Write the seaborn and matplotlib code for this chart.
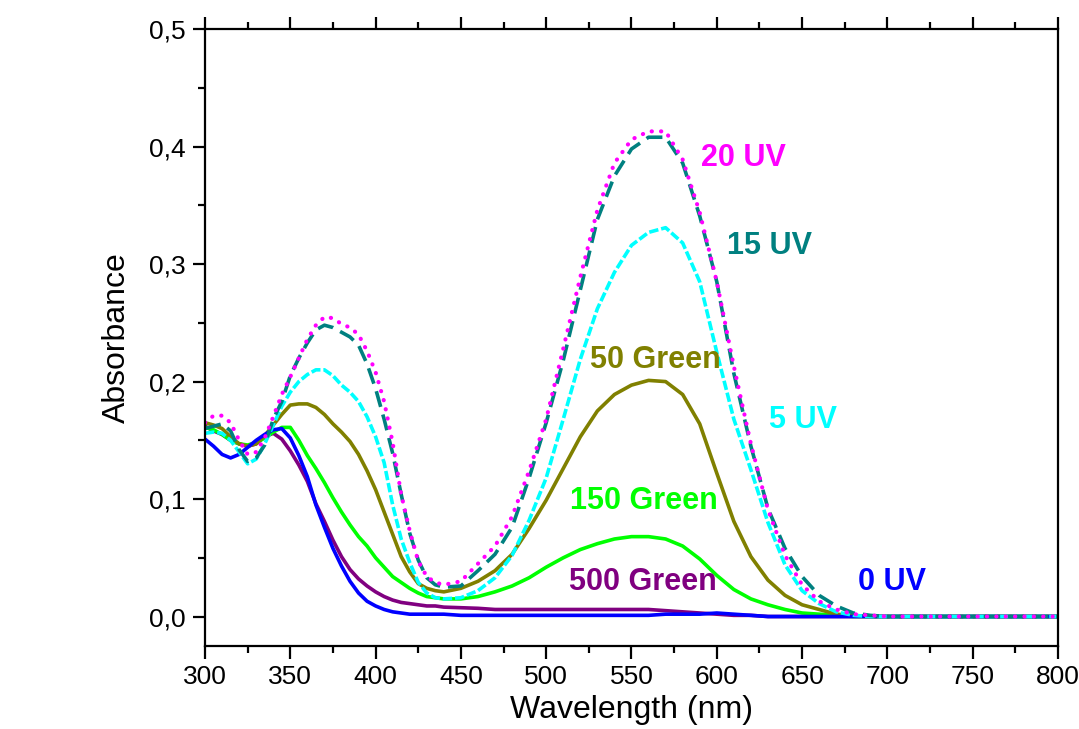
import numpy as np
import pandas as pd
import matplotlib
matplotlib.use("Agg")
import matplotlib.pyplot as plt
from matplotlib.ticker import MultipleLocator, FuncFormatter
import seaborn as sns

wavelength = [300, 305, 310, 315, 320, 325, 330, 335, 340, 345, 350, 355, 360, 365,
              370, 375, 380, 385, 390, 395, 400, 405, 410, 415, 420, 425, 430, 435,
              440, 450, 460, 470, 480, 490, 500, 510, 520, 530, 540, 550, 560, 570,
              580, 590, 600, 610, 620, 630, 640, 650, 660, 670, 680, 690, 700, 750, 800]

uv_20 = [0.165, 0.171, 0.171, 0.165, 0.150, 0.138, 0.140, 0.152, 0.170, 0.189, 0.204, 0.220, 0.236, 0.248,
         0.255, 0.254, 0.249, 0.246, 0.240, 0.226, 0.208, 0.183, 0.148, 0.104, 0.073, 0.047, 0.034, 0.029,
         0.027, 0.030, 0.045, 0.060, 0.085, 0.124, 0.168, 0.228, 0.289, 0.346, 0.386, 0.406, 0.413, 0.413,
         0.389, 0.344, 0.285, 0.213, 0.147, 0.091, 0.052, 0.027, 0.013, 0.006, 0.002, 0.001, 0.000, 0.000, 0.000]

uv_15 = [0.160, 0.162, 0.164, 0.158, 0.142, 0.132, 0.135, 0.146, 0.168, 0.183, 0.205, 0.220, 0.233, 0.244,
         0.248, 0.246, 0.242, 0.238, 0.231, 0.215, 0.194, 0.168, 0.139, 0.104, 0.071, 0.048, 0.033, 0.027,
         0.025, 0.026, 0.039, 0.053, 0.076, 0.118, 0.165, 0.218, 0.278, 0.338, 0.375, 0.398, 0.408, 0.408,
         0.386, 0.341, 0.285, 0.207, 0.145, 0.092, 0.058, 0.034, 0.018, 0.009, 0.003, 0.001, 0.000, 0.000, 0.000]

uv_5 = [0.156, 0.157, 0.156, 0.150, 0.140, 0.130, 0.134, 0.147, 0.163, 0.179, 0.191, 0.200, 0.206, 0.210,
        0.210, 0.205, 0.197, 0.191, 0.183, 0.170, 0.153, 0.131, 0.095, 0.066, 0.046, 0.029, 0.020, 0.016,
        0.015, 0.016, 0.022, 0.033, 0.052, 0.082, 0.118, 0.168, 0.219, 0.262, 0.293, 0.316, 0.327, 0.331,
        0.318, 0.285, 0.225, 0.168, 0.125, 0.080, 0.044, 0.022, 0.011, 0.004, 0.001, 0.000, 0.000, 0.000, 0.000]

green_50 = [0.165, 0.163, 0.160, 0.153, 0.147, 0.145, 0.147, 0.154, 0.163, 0.172, 0.180, 0.181, 0.181, 0.178,
            0.172, 0.164, 0.157, 0.149, 0.138, 0.124, 0.108, 0.089, 0.070, 0.051, 0.038, 0.028, 0.024, 0.022,
            0.021, 0.024, 0.030, 0.039, 0.053, 0.075, 0.099, 0.126, 0.153, 0.175, 0.189, 0.197, 0.201, 0.200,
            0.189, 0.164, 0.122, 0.081, 0.051, 0.031, 0.018, 0.010, 0.006, 0.002, 0.001, 0.000, 0.000, 0.000, 0.000]

green_150 = [0.161, 0.159, 0.155, 0.150, 0.147, 0.146, 0.148, 0.152, 0.157, 0.161, 0.161, 0.150, 0.137, 0.126,
             0.114, 0.101, 0.089, 0.078, 0.068, 0.060, 0.050, 0.042, 0.034, 0.029, 0.024, 0.020, 0.017, 0.016,
             0.015, 0.015, 0.017, 0.021, 0.026, 0.033, 0.042, 0.050, 0.057, 0.062, 0.066, 0.068, 0.068, 0.066,
             0.060, 0.049, 0.035, 0.023, 0.015, 0.010, 0.006, 0.003, 0.002, 0.001, 0.000, 0.000, 0.000, 0.000, 0.000]

green_500 = [0.162, 0.158, 0.155, 0.150, 0.147, 0.145, 0.147, 0.153, 0.156, 0.151, 0.141, 0.129, 0.115, 0.096,
             0.081, 0.065, 0.051, 0.040, 0.032, 0.026, 0.021, 0.017, 0.014, 0.012, 0.011, 0.010, 0.009, 0.009,
             0.008, 0.0075, 0.007, 0.006, 0.006, 0.006, 0.006, 0.006, 0.006, 0.006, 0.006, 0.006, 0.006, 0.005,
             0.004, 0.003, 0.002, 0.001, 0.001, 0.000, 0.000, 0.000, 0.000, 0.000, 0.000, 0.000, 0.000, 0.000, 0.000]

uv_0 = [0.151, 0.145, 0.138, 0.135, 0.138, 0.144, 0.150, 0.155, 0.159, 0.160, 0.152, 0.137, 0.119, 0.095,
        0.076, 0.058, 0.043, 0.030, 0.020, 0.013, 0.009, 0.006, 0.004, 0.003, 0.002, 0.002, 0.002, 0.002,
        0.002, 0.001, 0.001, 0.001, 0.001, 0.001, 0.001, 0.001, 0.001, 0.001, 0.001, 0.001, 0.001, 0.002,
        0.002, 0.002, 0.003, 0.002, 0.001, 0.000, 0.000, 0.000, 0.000, 0.000, 0.000, 0.000, 0.000, 0.000, 0.000]

labels = ["500 Green", "150 Green", "50 Green", "0 UV", "5 UV", "15 UV", "20 UV"]
series = [green_500, green_150, green_50, uv_0, uv_5, uv_15, uv_20]
colors = ["#800080", "#00FF00", "#808000", "#0000FF", "#00FFFF", "#008080", "#FF00FF"]
dash_styles = [None, None, None, None, (2.6, 0.8), (4.5, 2.2), (0.05, 2.2)]
widths = [2.6, 2.6, 2.6, 2.6, 2.6, 2.6, 3.0]
label_pos = {"20 UV": (591, 0.390), "15 UV": (606, 0.315), "50 Green": (525.5, 0.2185),
             "5 UV": (630.5, 0.1675), "150 Green": (514, 0.0986), "500 Green": (513.5, 0.029),
             "0 UV": (683, 0.029)}

sns.set_theme(style="ticks")
plt.rcParams["font.family"] = ["Liberation Sans", "DejaVu Sans"]
plt.rcParams["text.color"] = "black"
plt.rcParams["axes.labelcolor"] = "black"

fig = plt.figure(figsize=(10.79, 7.29), dpi=100)
ax = fig.add_axes([0.190, 0.114, 0.7905, 0.846])

for lab, vals, col, ds, lw in zip(labels, series, colors, dash_styles, widths):
    df = pd.DataFrame({"Wavelength": wavelength, "Absorbance": vals})
    sns.lineplot(data=df, x="Wavelength", y="Absorbance", ax=ax, color=col, lw=lw,
                 sort=False, estimator=None)
    line = ax.lines[-1]
    if ds is not None:
        line.set_dashes(ds)
        if ds[0] < 0.5:
            line.set_dash_capstyle("round")
        else:
            line.set_dash_capstyle("butt")
    tx, ty = label_pos[lab]
    ax.text(tx, ty, lab, color=col, fontsize=22, fontweight="bold", ha="left", va="center")

ax.set_xlim(300, 800)
ax.set_ylim(-0.025, 0.5)
ax.xaxis.set_major_locator(MultipleLocator(50))
ax.xaxis.set_minor_locator(MultipleLocator(25))
ax.yaxis.set_major_locator(MultipleLocator(0.1))
ax.yaxis.set_minor_locator(MultipleLocator(0.05))
ax.yaxis.set_major_formatter(FuncFormatter(lambda v, p: f"{v:.1f}".replace(".", ",")))

for s in ax.spines.values():
    s.set_linewidth(1.6)
    s.set_color("black")
ax.tick_params(which="major", direction="out", length=9, width=1.6, labelsize=19,
               top=True, right=False, colors="black", labelcolor="black", pad=5)
ax.tick_params(which="minor", direction="out", length=5, width=1.6, top=True, right=False,
               colors="black")

ax.set_xlabel("Wavelength (nm)", fontsize=23, labelpad=4, color="black")
ax.set_ylabel("Absorbance", fontsize=23, labelpad=12, color="black")

fig.savefig("out.png", dpi=100, facecolor="white")
